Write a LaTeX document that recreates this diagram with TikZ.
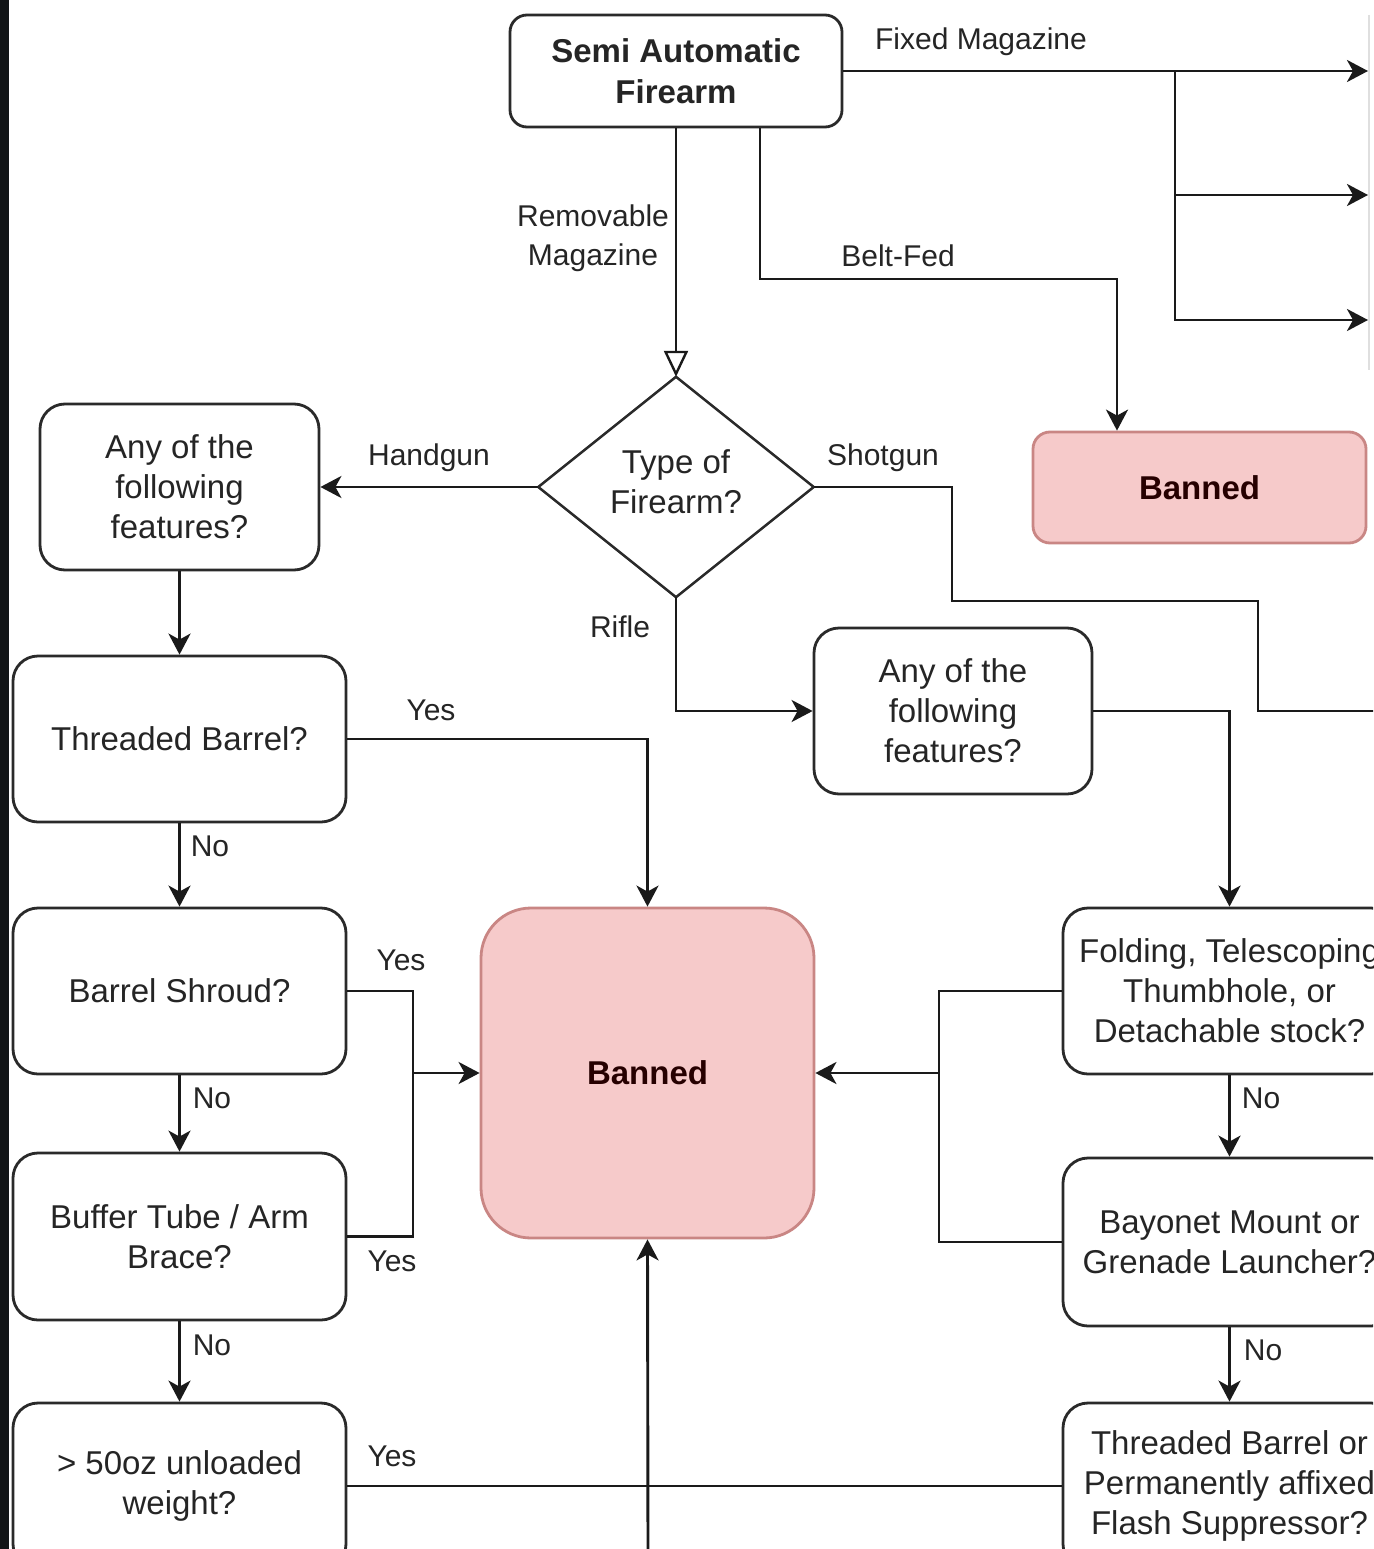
\documentclass[tikz,border=0pt]{standalone}
\usepackage{fontspec}
\setmainfont{Liberation Sans}
\usetikzlibrary{arrows.meta,calc}
\definecolor{ln}{HTML}{1A1A1A}
\definecolor{bd}{HTML}{2A2A2A}
\definecolor{txt}{HTML}{252525}
\definecolor{pinkf}{HTML}{F6CACA}
\definecolor{pinkd}{HTML}{C98684}
\definecolor{strip}{HTML}{121517}
\begin{document}
\begin{tikzpicture}[x=1pt,y=-1pt,
  box/.style={draw=bd, line width=2.8pt, fill=white, align=center, inner sep=0pt,
    font=\fontsize{33}{40}\selectfont, text=txt},
  sbox/.style={box, minimum width=333pt, minimum height=166pt, rounded corners=25pt},
  ban/.style={box, draw=pinkd, fill=pinkf, font=\fontsize{33}{40}\selectfont\bfseries, text=black!85!red},
  lab/.style={font=\fontsize{30}{39}\selectfont, text=txt, align=center, inner sep=0pt},
  conn/.style={draw=ln, line width=2.9pt},
  arr/.style={conn, -{Stealth[length=21pt,width=22pt,inset=6pt]}},
  openarr/.style={conn, -{Triangle[open,length=26pt,width=24pt,line width=2.4pt]}}]
\useasboundingbox (0,0) rectangle (1373,1549);
\clip (0,0) rectangle (1373,1549);
\fill[white] (0,0) rectangle (1373,1549);
\fill[strip] (0,0) rectangle (9,1549);
\draw[gray!25, line width=1.5pt] (1369,15) -- (1369,370);

% nodes
\node[box, minimum width=332pt, minimum height=112pt, rounded corners=17pt,
  font=\fontsize{33}{41}\selectfont\bfseries] (top) at (676,71) {Semi Automatic\\Firearm};
\node[ban, minimum width=333pt, minimum height=111pt, rounded corners=17pt] (banTR) at (1199.5,487.5) {Banned};
\node[minimum width=275pt, minimum height=220pt, inner sep=0pt] (dia) at (676,487) {};
\draw[bd, line width=2.5pt, line join=miter] (dia.north) -- (dia.east) -- (dia.south) -- (dia.west) -- cycle;
\node[font=\fontsize{33}{40}\selectfont, text=txt, align=center] (diat) at (676,482) {Type of\\Firearm?};
\node[box, minimum width=279pt, minimum height=166pt, rounded corners=25pt] (lAny) at (179.5,487) {Any of the\\following\\features?};
\node[sbox] (tb) at (179.5,739) {Threaded Barrel?};
\node[sbox] (bs) at (179.5,991) {Barrel Shroud?};
\node[sbox, minimum height=167pt] (bt) at (179.5,1236.5) {Buffer Tube / Arm\\Brace?};
\node[sbox] (wt) at (179.5,1486) {\textgreater{} 50oz unloaded\\weight?};
\node[ban, minimum width=333pt, minimum height=330pt, rounded corners=50pt] (ban) at (647.5,1073) {Banned};
\node[box, minimum width=278pt, minimum height=166pt, rounded corners=25pt] (rAny) at (953,711) {Any of the\\following\\features?};
\node[sbox] (fold) at (1229.5,991) {Folding, Telescoping\\Thumbhole, or\\Detachable stock?};
\node[sbox, minimum height=168pt] (bay) at (1229.5,1242) {Bayonet Mount or\\Grenade Launcher?};
\node[sbox] (tbr) at (1229.5,1486) {Threaded Barrel or\\Permanently affixed\\Flash Suppressor?};

% coordinates
\coordinate (o1) at (1368,71);
\coordinate (o2) at (1368,195);
\coordinate (o3) at (1368,320);
\coordinate (j1) at (1175,71);
\coordinate (bf1) at (1117,279);
\coordinate (sg1) at (952,601);
\coordinate (sg2) at (1258,711);
\coordinate (sgE) at (1380,711);
\coordinate (jL) at (413,1073);
\coordinate (jR) at (939,1073);
\coordinate (bb) at (648,1560);

% connectors
\draw[arr] (top.east) -- (o1);
\draw[arr] (j1) |- (o2);
\draw[arr] (j1) |- (o3);
\draw[openarr] (top.south) -- (dia.north);
\draw[arr] ([xshift=84pt]top.south) |- (bf1) -- (bf1 |- banTR.north);
\draw[arr] (dia.west) -- (lAny.east);
\draw[conn] (dia.east) -| (sg1) -| (sg2) -- (sgE);
\draw[arr] (dia.south) |- (rAny.west);
\draw[arr] (lAny.south) -- (tb.north);
\draw[arr] (tb.east) -| (ban.north);
\draw[arr] (tb.south) -- (bs.north);
\draw[conn] (bs.east) -| (jL);
\draw[conn] (bt.east) -| (jL);
\draw[arr] (jL) -- (ban.west);
\draw[arr] (bs.south) -- (bt.north);
\draw[arr] (bt.south) -- (wt.north);
\draw[conn] (wt.east) -- (tbr.west);
\draw[arr] (bb) -- (ban.south);
\draw[arr] (rAny.east) -| (fold.north);
\draw[conn] (fold.west) -| (jR);
\draw[conn] (bay.west) -| (jR);
\draw[arr] (jR) -- (ban.east);
\draw[arr] (fold.south) -- (bay.north);
\draw[arr] (bay.south) -- (tbr.north);

% labels
\node[lab] (lFixed) at (981,42) {Fixed Magazine};
\node[lab] (lRem) at (593,238) {Removable\\Magazine};
\node[lab] (lBelt) at (898,256) {Belt-Fed};
\node[lab] (lHand) at (429,458) {Handgun};
\node[lab] (lShot) at (883,458) {Shotgun};
\node[lab] (lRifle) at (620,627) {Rifle};
\node[lab] (lY1) at (431,710) {Yes};
\node[lab] (lN1) at (210,846) {No};
\node[lab] (lY2) at (401,960) {Yes};
\node[lab] (lN2) at (212,1098) {No};
\node[lab] (lY3) at (392,1261) {Yes};
\node[lab] (lN3) at (212,1345) {No};
\node[lab] (lY4) at (392,1456) {Yes};
\node[lab] (lN4) at (1261,1098) {No};
\node[lab] (lN5) at (1263,1350) {No};
\end{tikzpicture}
\end{document}
